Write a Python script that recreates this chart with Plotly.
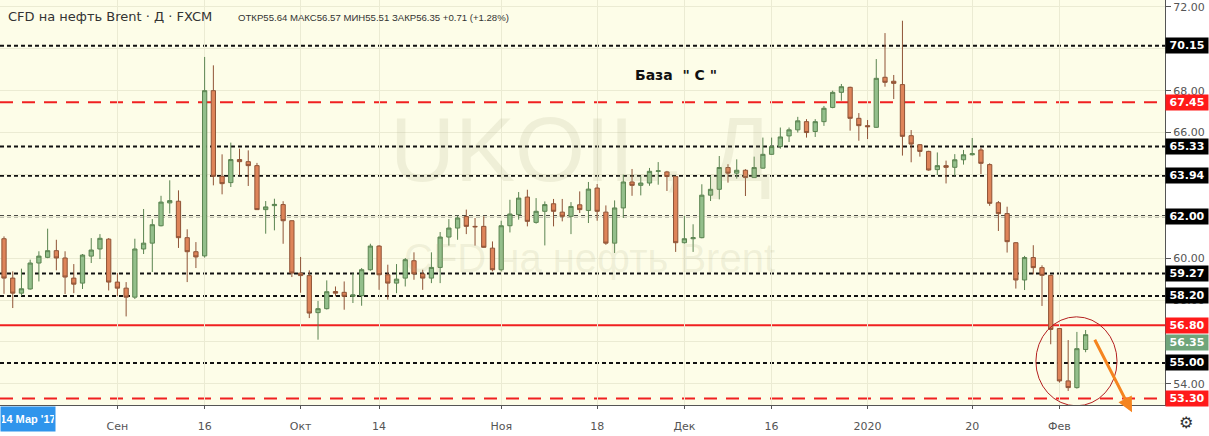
import pandas as pd
import plotly.graph_objects as go

# trading days shown (FXCM daily, Christmas and New Year closed)
dates = [d.strftime("%Y-%m-%d") for d in pd.bdate_range("2019-08-14", "2020-02-06")
         if d.strftime("%m-%d") not in ("12-25", "01-01")]

opens = [60.93, 59.05, 58.33, 58.53, 59.77, 60.04, 60.36, 60.01, 59.05, 58.81,
         60.10, 60.44, 60.91, 58.86, 58.57, 58.14, 60.44, 60.72, 61.55, 62.64,
         62.72, 60.98, 60.31, 60.11, 68.00, 63.91, 63.61, 64.71, 64.61, 64.42,
         62.32, 62.51, 62.56, 61.79, 59.29, 59.17, 57.40, 57.59, 58.41, 58.37,
         58.18, 58.21, 59.45, 60.58, 59.21, 58.81, 59.05, 59.88, 59.25, 59.05,
         59.56, 61.01, 61.44, 61.99, 61.52, 61.52, 60.48, 59.45, 61.55, 62.08,
         62.92, 61.71, 62.24, 62.60, 62.20, 62.00, 62.55, 62.28, 63.35, 62.20,
         60.72, 62.40, 63.64, 63.48, 63.59, 64.15, 64.12, 63.90, 60.74, 60.93,
         60.98, 63.01, 63.29, 64.33, 64.06, 64.20, 63.85, 64.30, 64.96, 65.33,
         65.84, 66.13, 66.52, 66.05, 66.52, 67.20, 67.92, 68.16, 66.68, 66.33,
         66.25, 68.64, 68.45, 68.29, 65.85, 65.42, 65.10, 64.23, 64.42, 64.34,
         64.70, 64.94, 65.17, 64.47, 62.65, 62.13, 60.74, 58.96, 60.03, 59.55,
         59.18, 56.64, 54.14, 53.82, 55.64]
highs = [61.04, 59.37, 59.50, 59.93, 60.33, 61.41, 60.88, 60.33, 59.72, 60.20,
         60.96, 61.15, 60.96, 59.29, 58.86, 60.93, 62.35, 61.87, 62.98, 63.72,
         63.24, 61.38, 60.77, 69.61, 69.21, 64.96, 65.52, 65.23, 65.15, 64.55,
         62.73, 62.84, 62.72, 61.80, 60.06, 59.42, 57.96, 58.94, 58.65, 58.89,
         59.29, 59.53, 60.69, 60.62, 59.69, 59.72, 60.01, 60.28, 59.45, 60.28,
         61.25, 61.87, 62.03, 62.32, 61.92, 62.00, 60.80, 61.79, 62.79, 63.16,
         63.27, 62.87, 62.71, 62.83, 62.83, 62.68, 63.19, 63.64, 63.54, 62.52,
         62.76, 63.99, 64.26, 63.91, 64.31, 64.59, 64.17, 63.92, 62.02, 61.62,
         63.53, 63.93, 64.88, 64.49, 64.72, 64.25, 64.85, 65.76, 65.76, 66.24,
         66.24, 66.75, 66.64, 66.64, 67.27, 68.00, 68.32, 68.19, 66.93, 66.60,
         69.51, 70.75, 68.75, 71.34, 66.12, 65.45, 65.13, 65.05, 64.66, 64.97,
         65.17, 65.74, 65.29, 64.53, 62.73, 62.46, 60.76, 60.11, 60.62, 59.66,
         59.20, 56.66, 56.09, 56.48, 56.57]
lows = [58.30, 57.62, 58.21, 58.50, 58.89, 60.00, 59.42, 58.29, 58.33, 58.53,
        59.77, 59.96, 58.46, 58.18, 57.22, 58.05, 60.20, 59.34, 61.52, 62.13,
        60.49, 58.86, 59.53, 60.03, 63.48, 63.05, 63.40, 63.96, 63.45, 62.32,
        61.17, 61.33, 60.69, 59.10, 58.35, 57.14, 56.11, 57.55, 58.18, 57.54,
        57.86, 57.73, 59.40, 58.49, 58.02, 58.33, 58.65, 58.97, 58.49, 58.81,
        58.81, 60.60, 60.88, 61.15, 60.60, 60.50, 59.37, 59.37, 61.23, 61.84,
        61.52, 61.65, 60.61, 61.52, 61.76, 61.15, 62.16, 61.68, 61.79, 60.64,
        60.25, 61.92, 62.98, 63.00, 63.46, 63.51, 63.21, 60.30, 60.70, 60.30,
        60.95, 62.73, 62.81, 63.61, 63.80, 62.97, 63.83, 64.28, 64.94, 65.23,
        65.55, 66.00, 65.76, 65.79, 66.32, 67.16, 67.52, 66.09, 65.61, 65.69,
        66.23, 68.19, 67.60, 64.90, 64.58, 64.85, 64.18, 63.97, 63.57, 63.94,
        64.47, 64.90, 64.02, 62.50, 61.30, 60.27, 58.55, 58.48, 59.23, 57.72,
        55.89, 54.06, 53.66, 53.77, 55.51]
closes = [59.05, 58.33, 58.54, 59.77, 60.10, 60.36, 60.01, 59.10, 58.76, 60.15,
          60.39, 60.95, 58.86, 58.57, 58.14, 60.44, 60.72, 61.60, 62.68, 62.75,
          60.98, 60.31, 60.06, 68.00, 63.91, 63.56, 64.71, 64.61, 64.42, 62.32,
          62.45, 62.57, 61.79, 59.29, 59.17, 57.38, 57.59, 58.40, 58.33, 58.18,
          58.25, 59.45, 60.58, 59.21, 58.81, 59.00, 59.93, 59.25, 59.05, 59.56,
          61.01, 61.44, 61.92, 61.52, 61.50, 60.52, 59.45, 61.55, 62.11, 62.87,
          61.76, 62.24, 62.56, 62.24, 62.00, 62.47, 62.32, 63.30, 62.24, 60.72,
          62.40, 63.64, 63.48, 63.59, 64.15, 64.17, 63.90, 60.74, 60.93, 60.98,
          63.01, 63.29, 64.33, 64.06, 64.20, 63.85, 64.33, 64.96, 65.33, 65.79,
          66.13, 66.56, 66.00, 66.52, 67.16, 67.92, 68.19, 66.68, 66.33, 66.28,
          68.59, 68.40, 68.35, 65.82, 65.45, 65.10, 64.21, 64.42, 64.34, 64.70,
          64.94, 64.99, 64.53, 62.62, 62.13, 60.79, 58.96, 60.03, 59.55, 59.18,
          56.60, 54.14, 53.82, 55.68, 56.35]

# support / resistance levels drawn on the chart
black_levels = [70.15, 65.33, 63.94, 62.00, 59.27, 58.20, 55.00]
red_dash_levels = [67.45, 53.30]
red_solid_levels = [56.80]
last_price = 56.35

tick_dates = ["2019-09-02", "2019-09-16", "2019-10-01", "2019-10-14", "2019-11-01",
              "2019-11-18", "2019-12-02", "2019-12-16", "2020-01-02", "2020-01-20",
              "2020-02-03"]
tick_text = ["Сен", "16", "Окт", "14", "Ноя", "18", "Дек", "16", "2020", "20", "Фев"]

BG = "#fdfde8"
GRID = "#ebebd3"

fig = go.Figure(go.Candlestick(
    x=dates, open=opens, high=highs, low=lows, close=closes,
    increasing=dict(fillcolor="#93bf8b", line=dict(color="#5b8451", width=1)),
    decreasing=dict(fillcolor="#de8459", line=dict(color="#8f5336", width=1)),
    hoverinfo="x+y",
))

for lv in black_levels:
    fig.add_hline(y=lv, line=dict(color="#111", width=2, dash="4px,3px"), layer="below")
for lv in red_dash_levels:
    fig.add_hline(y=lv, line=dict(color="#f02020", width=2, dash="13px,9px"), layer="below")
for lv in red_solid_levels:
    fig.add_hline(y=lv, line=dict(color="#f02020", width=2), layer="below")


def price_tag(value, bg, shift=0):
    fig.add_annotation(x=1, xref="paper", xanchor="left", xshift=0, y=value, yref="y",
                       yshift=shift, text=f"<b>{value:.2f}</b>", showarrow=False, bgcolor=bg,
                       width=40, height=13, font=dict(color="white", size=11, family="DejaVu Sans"))


for lv in black_levels:
    price_tag(lv, "#000000")
for lv in red_dash_levels + red_solid_levels:
    price_tag(lv, "#ff1a1a")
# last price tag sits just under the 56.80 tag
price_tag(last_price, "#6fa57a", shift=-8)

# highlight circle and expected move
fig.add_shape(type="circle", xref="x", yref="y", x0=118.3, x1=127.6, y0=52.95, y1=57.2,
              line=dict(color="#b42020", width=1))
fig.add_annotation(x=1132 / 1165, y=-0.018, xref="paper", yref="paper", ax=-38, ay=-74,
                   showarrow=True, arrowhead=2, arrowsize=1, arrowwidth=3, arrowcolor="#f5841f",
                   text="")

# watermark
fig.add_annotation(x=0.498, y=0.63, xref="paper", yref="paper", text="UKOIL, Д", showarrow=False,
                   font=dict(size=90, color="rgba(170,170,130,0.16)", family="Liberation Sans"))
fig.add_annotation(x=0.506, y=0.363, xref="paper", yref="paper", text="CFD на нефть Brent",
                   showarrow=False,
                   font=dict(size=40, color="rgba(170,170,130,0.16)", family="Liberation Sans"))

fig.add_annotation(x=0.58, y=0.84, xref="paper", yref="paper", text='<b>База  " С "</b>',
                   showarrow=False, font=dict(size=14, color="#111", family="DejaVu Sans"))

fig.add_annotation(x=0, y=1, xref="paper", yref="paper", xanchor="left", yanchor="top",
                   xshift=6, yshift=-7, text="CFD на нефть Brent · Д · FXCM", showarrow=False,
                   font=dict(size=13, color="#333", family="DejaVu Sans"))
fig.add_annotation(x=236 / 1165, y=1, xref="paper", yref="paper", xanchor="left", yanchor="top",
                   yshift=-10, text="ОТКР55.64 МАКС56.57 МИН55.51 ЗАКР56.35 +0.71 (+1.28%)",
                   showarrow=False, font=dict(size=9.6, color="#333", family="Liberation Sans"))

fig.add_annotation(x=0, y=0, xref="paper", yref="paper", xanchor="left", yanchor="top",
                   yshift=-1, text="<b>14 Мар '17</b>", showarrow=False, bgcolor="#2f95ec",
                   width=52, height=22, font=dict(size=11, color="white", family="Liberation Sans"))
fig.add_annotation(x=1, y=0, xref="paper", yref="paper", xanchor="left", yanchor="top",
                   xshift=12, yshift=-6, text="⚙", showarrow=False,
                   font=dict(size=16, color="#333", family="DejaVu Sans"))

fig.update_layout(
    width=1209, height=436,
    margin=dict(l=0, r=44, t=0, b=31),
    plot_bgcolor=BG, paper_bgcolor="white",
    showlegend=False, boxgap=0.3,
    font=dict(family="DejaVu Sans", color="#555", size=11),
)
fig.update_xaxes(
    type="category", range=[-0.46, 133.1], rangeslider_visible=False,
    tickmode="array", tickvals=tick_dates, ticktext=tick_text,
    showgrid=True, gridcolor=GRID, ticks="outside", ticklen=3, tickcolor="#555",
    ticklabelstandoff=8,
    showline=True, linecolor="#555", linewidth=1, tickfont=dict(size=11, color="#555"),
)
fig.update_yaxes(
    side="right", range=[52.99, 72.33], tickvals=[54, 56, 58, 60, 62, 64, 66, 68, 70, 72],
    tickformat=".2f", showgrid=True, gridcolor=GRID, zeroline=False,
    ticks="outside", ticklen=5, tickcolor="#555", showline=True, linecolor="#555", linewidth=1,
    tickfont=dict(size=11, color="#555"),
)

fig.write_html("out.html", config={"displayModeBar": False},
               post_script="document.body.style.margin='0';")
